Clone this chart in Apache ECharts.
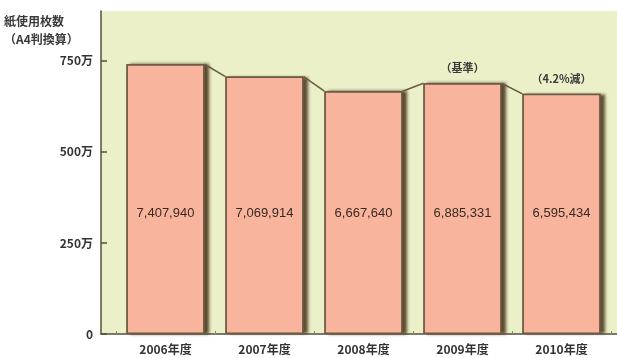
<!DOCTYPE html>
<html>
<head>
<meta charset="utf-8">
<script src="https://cdn.jsdelivr.net/npm/echarts@6/dist/echarts.min.js"></script>
<style>
  html, body { margin: 0; padding: 0; background: #ffffff; }
  #chart { width: 617px; height: 358px; }
</style>
</head>
<body>
<div id="chart"></div>
<script>
// Paper usage per fiscal year (sheets, A4 equivalent)
const categories = ['2006年度', '2007年度', '2008年度', '2009年度', '2010年度'];
const sheets = [7407940, 7069914, 6667640, 6885331, 6595434];
const notes = ['', '', '', '（基準）', '（4.2%減）'];
const yTickValues = [0, 2500000, 5000000, 7500000];
const yTickLabels = ['0', '250万', '500万', '750万'];
const yMax = 8870000;

const BAR_W = 0.79;
const fmt = v => String(v).replace(/\B(?=(\d{3})+(?!\d))/g, ',');

// connector segments: top-right of one bar to top-left of the next
const links = sheets.slice(0, -1).map((v, i) => [i, v, sheets[i + 1]]);
const noteData = notes.map((t, i) => [i, sheets[i], t]).filter(d => d[2]);

const chart = echarts.init(document.getElementById('chart'));
chart.setOption({
  animation: false,
  title: {
    text: '紙使用枚数\n（A4判換算）',
    left: 4, top: 12, padding: 0,
    textStyle: { fontSize: 12, fontWeight: 'bold', color: '#3a3a3a', lineHeight: 18,
      fontFamily: '"Noto Sans CJK JP", sans-serif' }
  },
  grid: [
    { left: 101, right: 0, top: 11, bottom: 24, show: true, backgroundColor: '#ebf0c9', borderWidth: 0 },
    { left: 116, right: 6, top: 11, bottom: 24 }
  ],
  xAxis: [
    { type: 'category', gridIndex: 0, data: [''],
      axisLine: { show: true, lineStyle: { color: '#56503f', width: 1.5 } },
      axisTick: { show: false }, axisLabel: { show: false } },
    { type: 'category', gridIndex: 1, data: categories,
      axisLine: { show: false },
      axisTick: { show: true, inside: true, length: 3, lineStyle: { color: '#8a8470' } },
      axisLabel: { margin: 9, fontSize: 12, fontWeight: 'bold', color: '#333',
        fontFamily: '"Noto Sans CJK JP", sans-serif' } }
  ],
  yAxis: [
    { type: 'value', gridIndex: 0, min: 0, max: yMax,
      splitLine: { show: false },
      axisLine: { show: true, lineStyle: { color: '#56503f', width: 1.5 } },
      axisTick: { show: true, inside: true, length: 6, customValues: yTickValues,
        lineStyle: { color: '#56503f', width: 1.5 } },
      axisLabel: { customValues: yTickValues, margin: 8, fontSize: 12, fontWeight: 'bold', color: '#333',
        fontFamily: '"Noto Sans CJK JP", sans-serif',
        formatter: v => yTickLabels[yTickValues.indexOf(v)] } },
    { type: 'value', gridIndex: 1, min: 0, max: yMax, show: false, splitLine: { show: false } }
  ],
  series: [
    {
      // drop shadow layer behind each bar
      type: 'bar', xAxisIndex: 1, yAxisIndex: 1,
      data: sheets,
      barWidth: (BAR_W * 100) + '%',
      barGap: '-100%',
      silent: true,
      itemStyle: {
        color: '#6b5a42',
        shadowColor: 'rgba(75,55,30,0.9)', shadowOffsetX: 4, shadowOffsetY: 0, shadowBlur: 3
      },
      z: 2
    },
    {
      type: 'bar', xAxisIndex: 1, yAxisIndex: 1,
      data: sheets,
      barWidth: (BAR_W * 100) + '%',
      barGap: '-100%',
      itemStyle: { color: '#f8b49d', borderColor: '#6b5a42', borderWidth: 1.5 },
      label: {
        show: true, position: 'insideBottom', distance: 114,
        fontSize: 13, color: '#3a2a20', fontFamily: 'Arial, sans-serif',
        formatter: p => fmt(p.value)
      },
      z: 3
    },
    {
      type: 'custom', xAxisIndex: 1, yAxisIndex: 1,
      data: links,
      renderItem: (params, api) => {
        const i = api.value(0);
        const hw = api.size([1, 0])[0] * BAR_W / 2;
        const a = api.coord([i, api.value(1)]);
        const b = api.coord([i + 1, api.value(2)]);
        return {
          type: 'line',
          shape: { x1: a[0] + hw, y1: a[1], x2: b[0] - hw, y2: b[1] },
          style: { stroke: '#6b5a42', lineWidth: 1.5 }
        };
      },
      z: 4
    },
    {
      type: 'custom', xAxisIndex: 1, yAxisIndex: 1,
      data: noteData,
      renderItem: (params, api) => {
        const p = api.coord([api.value(0), api.value(1)]);
        return {
          type: 'text',
          x: p[0], y: p[1] - 10,
          style: {
            text: noteData[params.dataIndex][2],
            textAlign: 'center', textVerticalAlign: 'bottom',
            fontSize: 11, fontWeight: 'bold', fill: '#3a3a3a',
            fontFamily: '"Noto Sans CJK JP", sans-serif'
          }
        };
      },
      z: 5
    }
  ]
});
</script>
</body>
</html>
